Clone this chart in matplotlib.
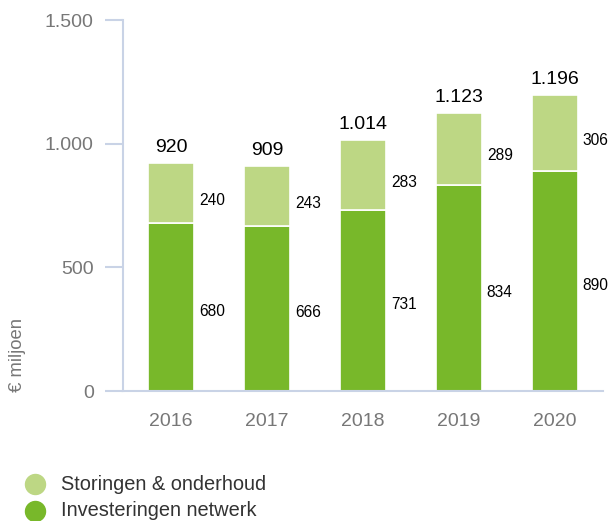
import matplotlib
matplotlib.use("Agg")
import matplotlib.pyplot as plt
from matplotlib.lines import Line2D
import numpy as np

plt.rcParams["font.family"] = ["Liberation Sans", "DejaVu Sans"]

years = ["2016", "2017", "2018", "2019", "2020"]
investeringen = [680, 666, 731, 834, 890]
storingen = [240, 243, 283, 289, 306]
totals = [920, 909, 1014, 1123, 1196]

light_green = "#BDD784"
dark_green = "#78B82A"
axis_color = "#C9D3E6"
tick_text = "#777777"


def fmt(v):
    return f"{v:,}".replace(",", ".")


fig = plt.figure(figsize=(6.11, 5.21), dpi=100)
ax = fig.add_axes([0.2013, 0.2495, 0.7856, 0.712])

x = np.arange(len(years))
width = 0.48
ax.bar(x, investeringen, width, color=dark_green, edgecolor="white", linewidth=1.2)
ax.bar(x, storingen, width, bottom=investeringen, color=light_green,
       edgecolor="white", linewidth=1.2)

for i in range(len(years)):
    lx = x[i] + width / 2 + 0.05
    ax.annotate(str(investeringen[i]), (lx, investeringen[i] / 2), xytext=(0, -3),
                textcoords="offset points", va="center", ha="left",
                fontsize=11.2, color="black")
    ax.annotate(str(storingen[i]), (lx, investeringen[i] + storingen[i] / 2),
                xytext=(0, -5), textcoords="offset points", va="center",
                ha="left", fontsize=11.2, color="black")
    ax.annotate(fmt(totals[i]), (x[i], totals[i]), xytext=(0, 8),
                textcoords="offset points", ha="center", va="baseline",
                fontsize=14, color="black")

ax.set_xlim(-0.5, len(years) - 0.5)
ax.set_ylim(0, 1500)
ax.set_yticks([0, 500, 1000, 1500])
ax.set_yticklabels([fmt(v) for v in [0, 500, 1000, 1500]])
ax.set_xticks(x)
ax.set_xticklabels(years)

for s in ["top", "right"]:
    ax.spines[s].set_visible(False)
for s in ["left", "bottom"]:
    ax.spines[s].set_color(axis_color)
    ax.spines[s].set_linewidth(1.5)
ax.tick_params(axis="y", length=13, width=1.5, color=axis_color,
               labelcolor=tick_text, labelsize=14, pad=8)
ax.tick_params(axis="x", length=0, labelcolor=tick_text, labelsize=14, pad=16)

fig.text(18 / 611, 1 - 355 / 521, "€ miljoen", rotation=90, ha="center",
         va="center", fontsize=13.3, color=tick_text)

# legend
legend_items = [("Storingen & onderhoud", light_green, 484),
                ("Investeringen netwerk", dark_green, 511)]
for label, col, ypix in legend_items:
    yf = 1 - ypix / 521
    fig.add_artist(Line2D([35 / 611], [yf], marker="o", markersize=14.4,
                          color=col, linestyle="none", transform=fig.transFigure))
    fig.text(61 / 611, yf, label, va="center", ha="left", fontsize=14.4,
             color="#333333")

fig.savefig("out.png", dpi=100)
